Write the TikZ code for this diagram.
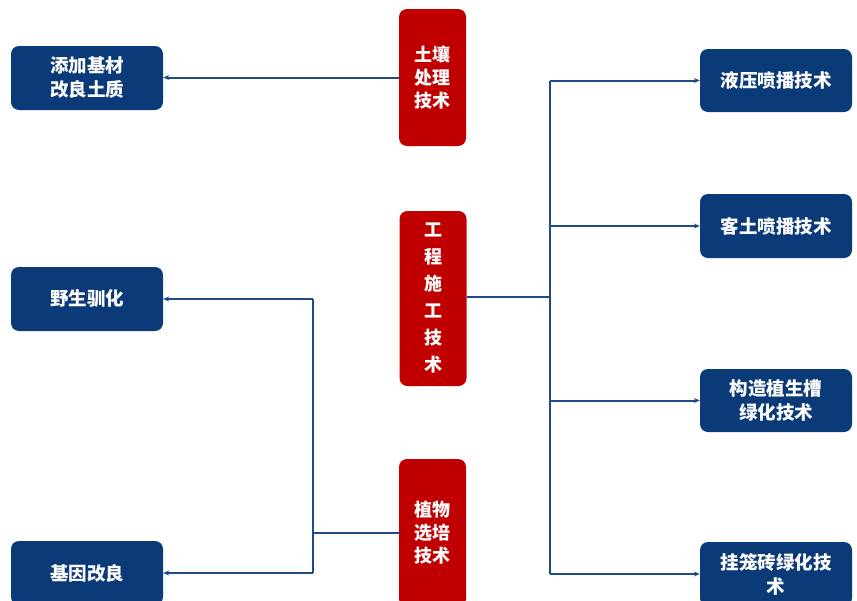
\documentclass[tikz,border=0pt]{standalone}
\usepackage{fontspec}
\newfontfamily\cjk{Noto Sans CJK SC}
\usetikzlibrary{arrows.meta}
\definecolor{boxblue}{HTML}{0B3A78}
\definecolor{boxred}{HTML}{C00000}
\definecolor{lineblue}{HTML}{1F4A86}
\tikzset{
  bluebox/.style={fill=boxblue, rounded corners=8pt, minimum width=152pt, text=white, align=center, inner sep=0pt,
    font=\cjk\bfseries\fontsize{18.5}{24}\selectfont},
  redbox/.style={fill=boxred, rounded corners=8pt, minimum width=67pt, text=white, align=center, inner sep=0pt,
    font=\cjk\bfseries\fontsize{18}{23}\selectfont},
  conn/.style={draw=lineblue, line width=2pt},
  arr/.style={conn, -{Stealth[length=6pt,width=5pt]}}
}
\begin{document}
\begin{tikzpicture}[x=1pt,y=-1pt]
\useasboundingbox (0,0) rectangle (857,600);
\clip (0,0) rectangle (857,600);
% left blue boxes
\node[bluebox, minimum height=64pt] (A1) at (87,78) {添加基材\\改良土质};
\node[bluebox, minimum height=64pt] (A2) at (87,299) {野生驯化};
\node[bluebox, minimum height=64pt] (A3) at (87,573) {基因改良};
% red boxes
\node[redbox, minimum height=137pt] (R1) at (432.5,77.5) {土壤\\处理\\技术};
\node[redbox, minimum height=175pt, font=\cjk\bfseries\fontsize{18}{27}\selectfont] (R2) at (433,298.5) {工\\程\\施\\工\\技\\术};
\node[redbox, minimum height=148pt] (R3) at (432.5,533) {植物\\选培\\技术};
% right blue boxes
\node[bluebox, minimum height=63pt] (B1) at (776,80.5) {液压喷播技术};
\node[bluebox, minimum height=64pt] (B2) at (776,226) {客土喷播技术};
\node[bluebox, minimum height=63pt] (B3) at (776,400.5) {构造植生槽\\绿化技术};
\node[bluebox, minimum height=64pt] (B4) at (776,574) {挂笼砖绿化技\\术};
% buses
\coordinate (busR) at (550,297);
\coordinate (busL) at (313,533);
% connectors
\draw[arr] (R1.west) -- (A1.east |- R1.west);
\draw[conn] (R2.east |- busR) -- (busR);
\draw[conn] (busR |- B1) -- (busR |- B4);
\draw[arr] (busR |- B1) -- (B1.west);
\draw[arr] (busR |- B2) -- (B2.west);
\draw[arr] (busR |- B3) -- (B3.west);
\draw[arr] (busR |- B4) -- (B4.west);
\draw[conn] (R3.west) -- (busL);
\draw[conn] (busL |- A2) -- (busL |- A3);
\draw[arr] (busL |- A2) -- (A2.east);
\draw[arr] (busL |- A3) -- (A3.east);
\end{tikzpicture}
\end{document}
